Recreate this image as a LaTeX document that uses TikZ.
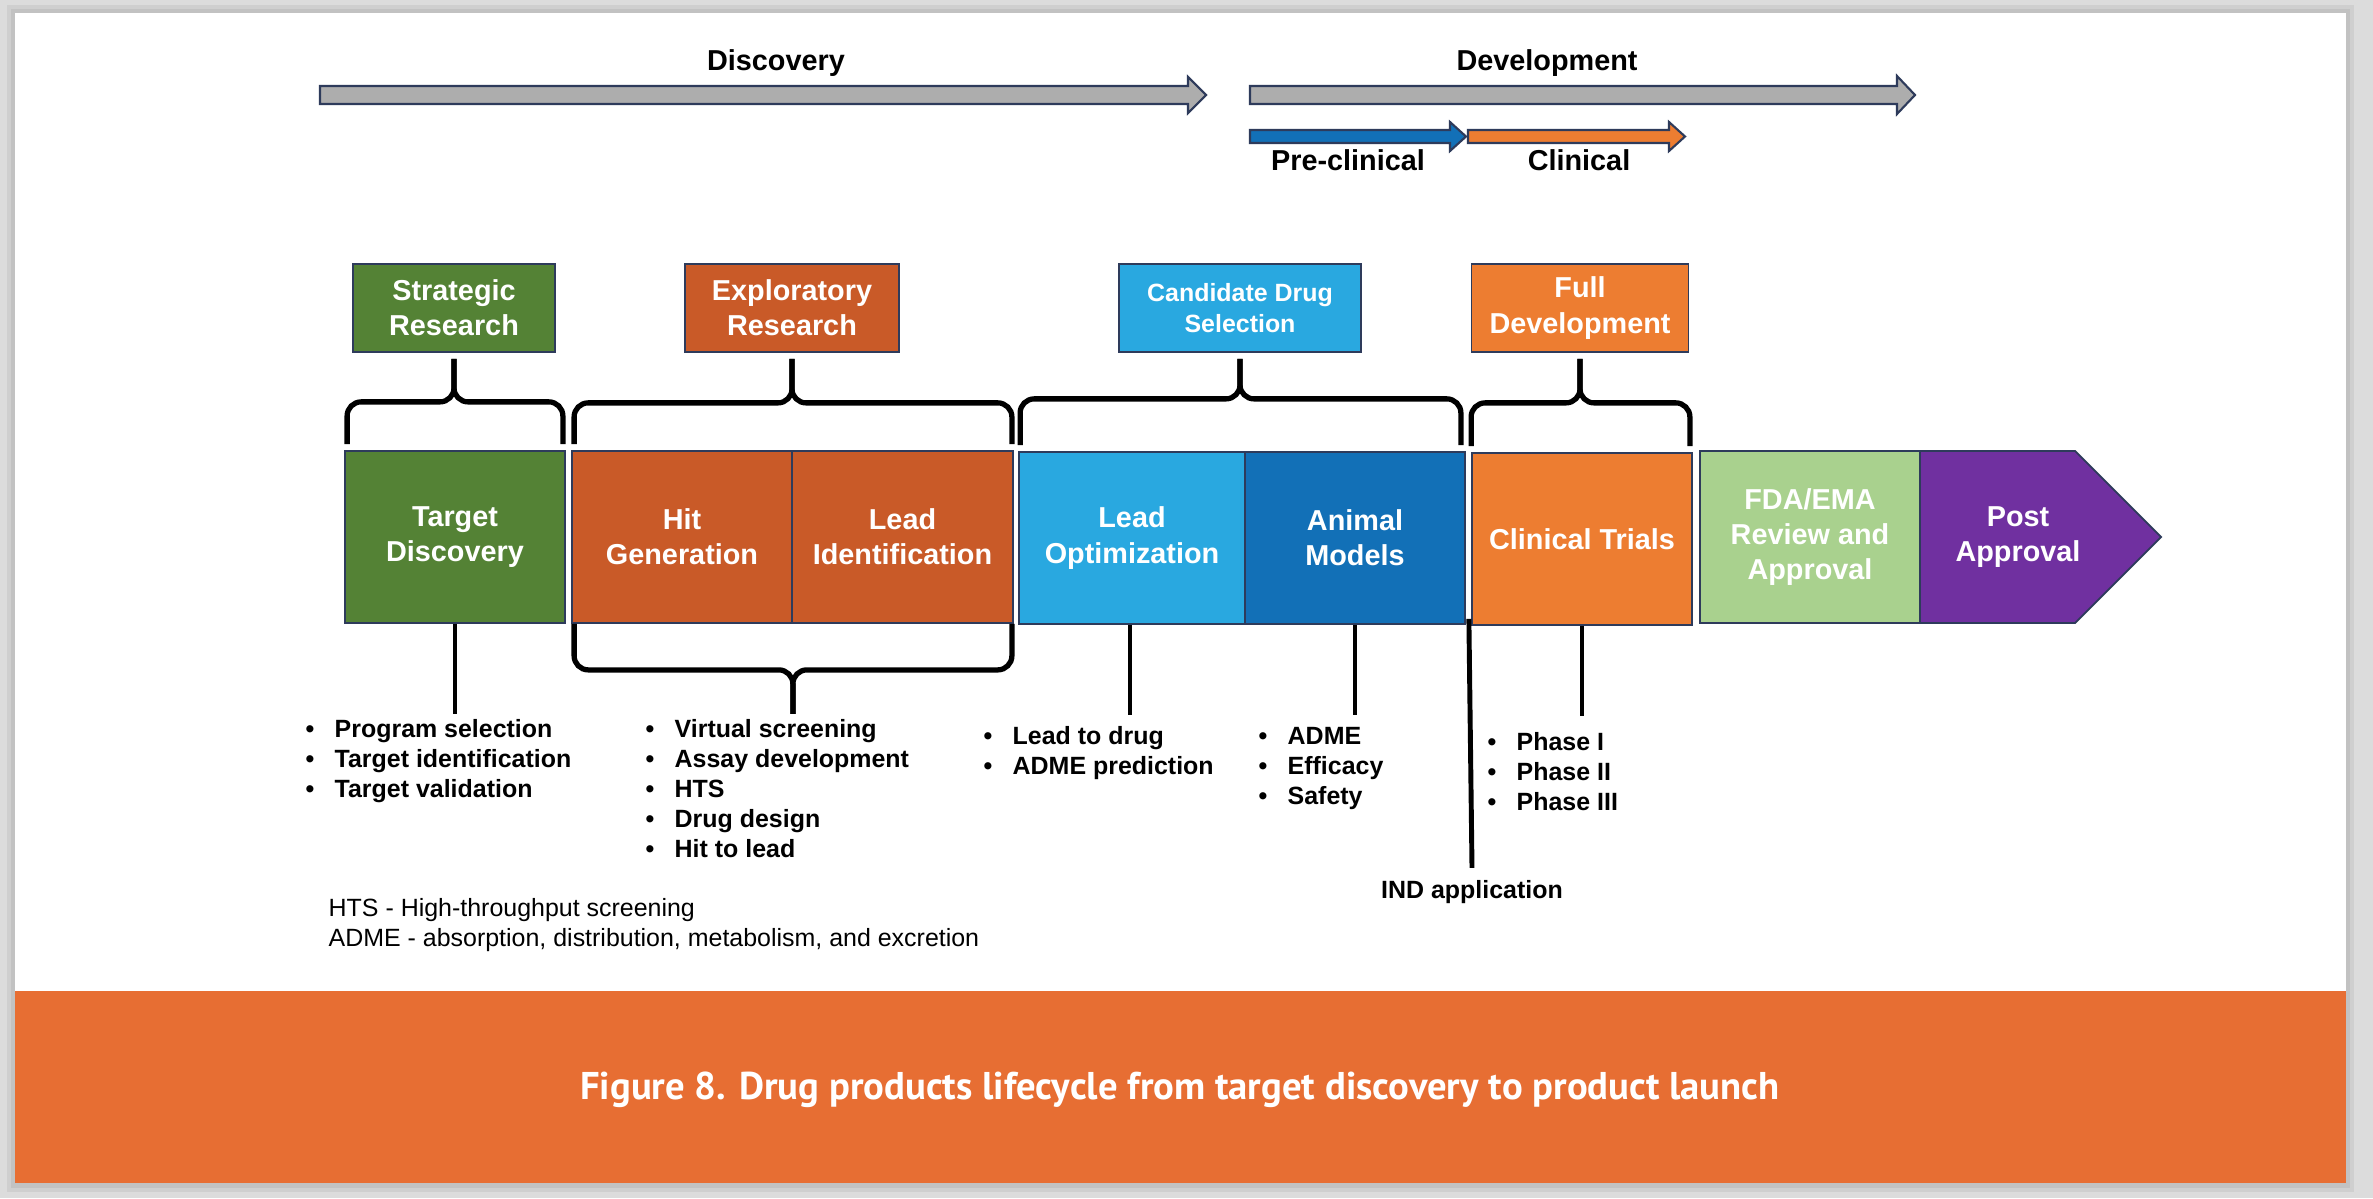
\documentclass[tikz,border=0pt]{standalone}
\usepackage{fontspec}
\setmainfont{Liberation Sans}
\newfontfamily\capfont{PT Sans}
\usepackage{tikz}
\usetikzlibrary{positioning,arrows.meta}
\usepackage{xcolor}
\definecolor{navy}{HTML}{2E3B5B}
\definecolor{leafgreen}{HTML}{548235}
\definecolor{rust}{HTML}{C95A28}
\definecolor{sky}{HTML}{29A8E0}
\definecolor{ocean}{HTML}{1270B7}
\definecolor{tangerine}{HTML}{ED7D31}
\definecolor{sage}{HTML}{A9D18E}
\definecolor{plum}{HTML}{7030A0}
\definecolor{shaftgray}{HTML}{ADADAD}
\definecolor{banner}{HTML}{E76E33}
\definecolor{pageback}{HTML}{DCDCDC}
\newcommand{\bitem}[1]{\makebox[0.29cm][l]{\textbullet}#1}

\begin{document}
\begin{tikzpicture}[
  stage/.style={draw=navy,line width=0.5pt,text=white,align=center,inner sep=2pt,minimum height=1.72cm,font=\bfseries\fontsize{8.2}{10}\selectfont},
  tag/.style={stage,minimum height=0.88cm},
  lbl/.style={font=\bfseries\fontsize{8.2}{10}\selectfont},
  blist/.style={anchor=north west,inner sep=0pt,align=left,font=\bfseries\fontsize{7.1}{8.55}\selectfont},
  brace/.style={line width=1.5pt,rounded corners=0.14cm},
  leader/.style={line width=1.4pt},
  band/.style={draw=navy,line width=0.6pt}]

\useasboundingbox (0,0) rectangle (23.73,-11.98);
\fill[pageback] (0,0) rectangle (23.73,-11.98);
\fill[black,opacity=0.06] (0.07,-0.05) rectangle (23.54,-11.92);
\fill[black,opacity=0.06] (0.11,-0.09) rectangle (23.50,-11.88);
\fill[white] (0.15,-0.13) rectangle (23.46,-11.83);
\fill[banner] (0.15,-9.91) rectangle (23.46,-11.83);

% timeline
\draw[band,fill=shaftgray] (3.20,-0.86) -- (11.88,-0.86) -- (11.88,-0.77) -- (12.06,-0.95) -- (11.88,-1.13) -- (11.88,-1.04) -- (3.20,-1.04) -- cycle;
\draw[band,fill=shaftgray] (12.50,-0.86) -- (18.97,-0.86) -- (18.97,-0.76) -- (19.15,-0.95) -- (18.97,-1.14) -- (18.97,-1.04) -- (12.50,-1.04) -- cycle;
\draw[band,fill=ocean] (12.50,-1.30) -- (14.50,-1.30) -- (14.50,-1.22) -- (14.66,-1.365) -- (14.50,-1.51) -- (14.50,-1.43) -- (12.50,-1.43) -- cycle;
\draw[band,fill=tangerine] (14.68,-1.30) -- (16.69,-1.30) -- (16.69,-1.22) -- (16.85,-1.365) -- (16.69,-1.51) -- (16.69,-1.43) -- (14.68,-1.43) -- cycle;
\node[lbl] (discovery) at (7.76,-0.63) {Discovery};
\node[lbl] (development) at (15.47,-0.63) {Development};
\node[lbl] (preclin) at (13.48,-1.60) {Pre-clinical};
\node[lbl] (clin) at (15.79,-1.60) {Clinical};

% research phases
\node[tag,fill=leafgreen,minimum width=2.02cm] (sr) at (4.54,-3.08) {Strategic\\Research};
\node[tag,fill=rust,minimum width=2.14cm] (er) at (7.92,-3.08) {Exploratory\\Research};
\node[tag,fill=sky,minimum width=2.42cm,font=\bfseries\fontsize{7.1}{8.6}\selectfont] (cds) at (12.40,-3.08) {Candidate Drug\\Selection};
\node[tag,fill=tangerine,minimum width=2.17cm] (fd) at (15.80,-3.08) {Full\\Development};

% lifecycle stages
\node[stage,fill=leafgreen,minimum width=2.20cm] (td) at (4.55,-5.37) {Target\\Discovery};
\node[stage,fill=rust,minimum width=2.20cm] (hg) at (6.82,-5.37) {Hit\\Generation};
\node[stage,fill=rust,minimum width=2.21cm] (li) at (9.025,-5.37) {Lead\\Identification};
\node[stage,fill=sky,minimum width=2.26cm] (lo) at (11.32,-5.38) {Lead\\Optimization};
\node[stage,fill=ocean,minimum width=2.20cm] (am) at (13.55,-5.38) {Animal\\Models};
\node[stage,fill=tangerine,minimum width=2.20cm] (ct) at (15.82,-5.39) {Clinical Trials};
\node[stage,fill=sage,minimum width=2.20cm] (fda) at (18.10,-5.37) {FDA/EMA\\Review and\\Approval};
\draw[navy,line width=0.5pt,fill=plum] (19.20,-4.51) -- (20.75,-4.51) -- (21.61,-5.37) -- (20.75,-6.23) -- (19.20,-6.23) -- cycle;
\node[stage,draw=none] (pa) at (20.18,-5.37) {Post\\Approval};

% braces
\draw[brace] ([shift={(0.03,0.06)}]td.north west) |- ([yshift=-0.49cm]sr.south) -- ([yshift=-0.06cm]sr.south);
\draw[brace] ([shift={(-0.03,0.06)}]td.north east) |- ([yshift=-0.49cm]sr.south) -- ([yshift=-0.06cm]sr.south);
\draw[brace] ([shift={(0.03,0.06)}]hg.north west) |- ([yshift=-0.50cm]er.south) -- ([yshift=-0.06cm]er.south);
\draw[brace] ([shift={(-0.02,0.06)}]li.north east) |- ([yshift=-0.50cm]er.south) -- ([yshift=-0.06cm]er.south);
\draw[brace] ([shift={(0.02,0.06)}]lo.north west) |- ([yshift=-0.46cm]cds.south) -- ([yshift=-0.06cm]cds.south);
\draw[brace] ([shift={(-0.05,0.06)}]am.north east) |- ([yshift=-0.46cm]cds.south) -- ([yshift=-0.06cm]cds.south);
\draw[brace] ([shift={(0.00,0.06)}]ct.north west) |- ([yshift=-0.50cm]fd.south) -- ([yshift=-0.06cm]fd.south);
\draw[brace] ([shift={(-0.03,0.06)}]ct.north east) |- ([yshift=-0.50cm]fd.south) -- ([yshift=-0.06cm]fd.south);
\draw[brace] ([xshift=0.03cm]hg.south west) |- ([yshift=-0.46cm]hg.south east) -- ([yshift=-0.90cm]hg.south east);
\draw[brace] ([xshift=-0.02cm]li.south east) |- ([yshift=-0.46cm]hg.south east) -- ([yshift=-0.90cm]hg.south east);

% leaders and activities
\draw[leader] (td.south) -- ++(0,-0.90);
\draw[leader] ([xshift=-0.02cm]lo.south) -- ++(0,-0.90);
\draw[leader] (am.south) -- ++(0,-0.90);
\draw[leader] (ct.south) -- ++(0,-0.90);
\node[blist] (tdlist) at (3.05,-7.19) {\bitem{Program selection}\\\bitem{Target identification}\\\bitem{Target validation}};
\node[blist] (hllist) at (6.45,-7.19) {\bitem{Virtual screening}\\\bitem{Assay development}\\\bitem{HTS}\\\bitem{Drug design}\\\bitem{Hit to lead}};
\node[blist] (lolist) at (9.83,-7.26) {\bitem{Lead to drug}\\\bitem{ADME prediction}};
\node[blist] (amlist) at (12.58,-7.27) {\bitem{ADME}\\\bitem{Efficacy}\\\bitem{Safety}};
\node[blist] (ctlist) at (14.87,-7.32) {\bitem{Phase I}\\\bitem{Phase II}\\\bitem{Phase III}};

\coordinate (indtop) at ([shift={(0.03,0.06)}]am.south east);
\node[font=\bfseries\fontsize{7.1}{8.6}\selectfont] (ind) at (14.72,-8.92) {IND application};
\draw[leader] (indtop) -- (ind.north);

\node[anchor=west,inner sep=0pt,align=left,font=\fontsize{7.1}{8.55}\selectfont] (abbr) at (3.28,-9.25) {HTS - High-throughput screening\\ADME - absorption, distribution, metabolism, and excretion};

\node[text=white,font=\capfont\bfseries\fontsize{11}{13}\selectfont] (caption) at (11.80,-10.90) {Figure 8. Drug products lifecycle from target discovery to product launch};
\end{tikzpicture}
\end{document}
